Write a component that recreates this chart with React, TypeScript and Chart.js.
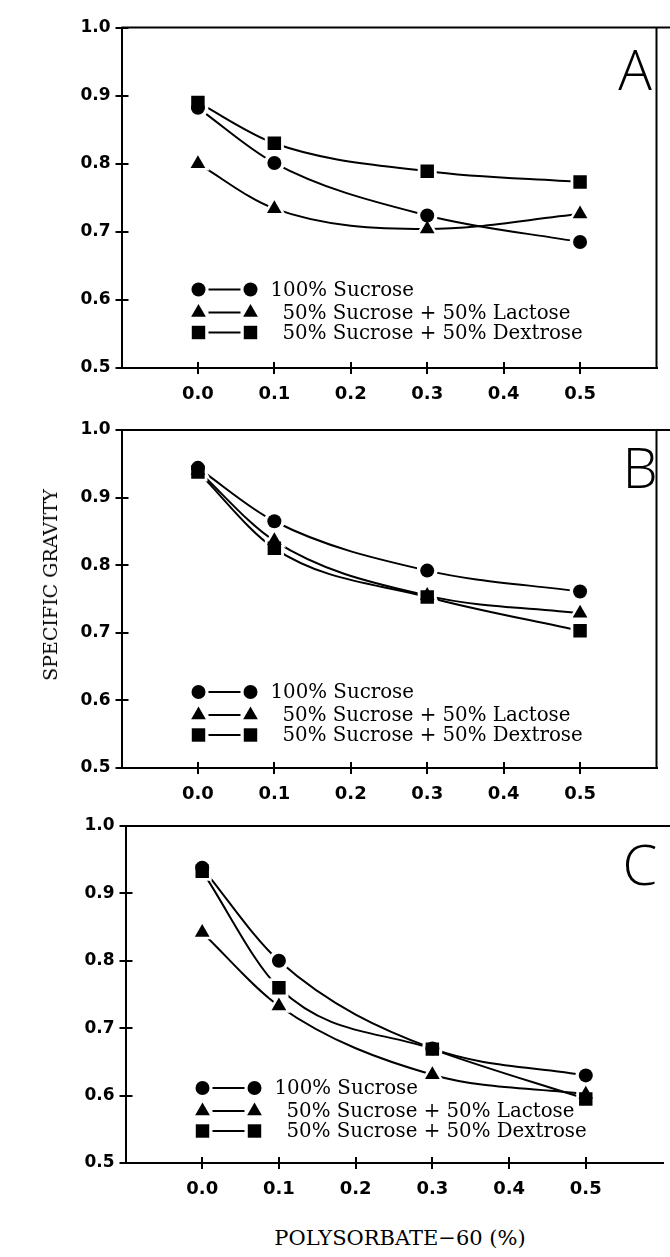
import React, { useEffect, useRef } from 'react';
import { Chart, registerables } from 'chart.js';

Chart.register(...registerables);

// ---------------- data ----------------
const polysorbate = [0, 0.1, 0.3, 0.5];
const xTickValues = [0, 0.1, 0.2, 0.3, 0.4, 0.5];
const yTickValues = [0.5, 0.6, 0.7, 0.8, 0.9, 1.0];
const seriesNames = ['100% Sucrose', '50% Sucrose + 50% Lactose', '50% Sucrose + 50% Dextrose'];
const panelLetters = ['A', 'B', 'C'];

const sucroseA = [0.882, 0.801, 0.724, 0.685];
const lactoseA = [0.800, 0.734, 0.704, 0.726];
const dextroseA = [0.890, 0.830, 0.789, 0.773];

const sucroseB = [0.944, 0.865, 0.792, 0.761];
const lactoseB = [0.940, 0.836, 0.755, 0.729];
const dextroseB = [0.938, 0.825, 0.753, 0.703];

const sucroseC = [0.938, 0.800, 0.670, 0.630];
const lactoseC = [0.842, 0.733, 0.631, 0.602];
const dextroseC = [0.933, 0.760, 0.669, 0.595];

const yTitle = 'SPECIFIC GRAVITY';
const xTitle = 'POLYSORBATE\u221260 (%)';

const panelSeries = [
  [sucroseA, lactoseA, dextroseA],
  [sucroseB, lactoseB, dextroseB],
  [sucroseC, lactoseC, dextroseC],
];

// ---------------- layout / style ----------------
const panelLayouts = [
  { top: 0, width: 670, height: 400, areaLeft: 121.5, areaTop: 27.5, areaRight: 668, areaBottom: 368, letterX: 635, letterY: 90, rightBorder: true },
  { top: 400, width: 670, height: 400, areaLeft: 121.5, areaTop: 30, areaRight: 669, areaBottom: 368, letterX: 640, letterY: 88, rightBorder: true },
  { top: 800, width: 676, height: 400, areaLeft: 125.5, areaTop: 26, areaRight: 673, areaBottom: 363, letterX: 640, letterY: 85, rightBorder: false },
];

const pointStyles = ['circle', 'triangle', 'rect'];
const markerRadius = [7, 8.5, 9.5];
const haloRadius = [10.5, 13.5, 13.5];
const legendRowOffsets = [262, 285, 305];

function drawMarker(ctx: CanvasRenderingContext2D, style: string, x: number, y: number, r: number) {
  ctx.beginPath();
  if (style === 'circle') {
    ctx.arc(x, y, r, 0, Math.PI * 2);
  } else if (style === 'triangle') {
    let a = 0;
    ctx.moveTo(x + Math.sin(a) * r, y - Math.cos(a) * r);
    a += (2 * Math.PI) / 3;
    ctx.lineTo(x + Math.sin(a) * r, y - Math.cos(a) * r);
    a += (2 * Math.PI) / 3;
    ctx.lineTo(x + Math.sin(a) * r, y - Math.cos(a) * r);
    ctx.closePath();
  } else {
    const s = r * Math.SQRT1_2;
    ctx.rect(x - s, y - s, 2 * s, 2 * s);
  }
  ctx.fill();
}

const decorPlugin = {
  id: 'panelDecor',
  afterDraw(chart: any, _args: any, opts: any) {
    const { ctx, chartArea } = chart;
    const { left, top, right, bottom } = chartArea;
    const xs = chart.scales.x;
    const ys = chart.scales.y;
    ctx.save();
    ctx.strokeStyle = '#000';
    ctx.lineWidth = 2;
    ctx.beginPath();
    ctx.moveTo(left, top);
    ctx.lineTo(chart.width, top);
    if (opts.rightBorder) {
      ctx.moveTo(right, top);
      ctx.lineTo(right, bottom);
    }
    ctx.stroke();
    // inward halves of the crossing ticks
    ctx.beginPath();
    xTickValues.forEach((v) => {
      const px = Math.round(xs.getPixelForValue(v));
      ctx.moveTo(px, bottom);
      ctx.lineTo(px, bottom - 6);
    });
    yTickValues.forEach((v) => {
      const py = Math.round(ys.getPixelForValue(v));
      ctx.moveTo(left, py);
      ctx.lineTo(left + 7, py);
    });
    ctx.stroke();

    // legend
    ctx.fillStyle = '#000';
    ctx.font = "19.8px 'DejaVu Serif'";
    ctx.textBaseline = 'middle';
    ctx.textAlign = 'left';
    seriesNames.forEach((name, i) => {
      const y = top + legendRowOffsets[i];
      const x1 = left + 77;
      const x2 = left + 129;
      ctx.beginPath();
      ctx.moveTo(x1 + 10, y);
      ctx.lineTo(x2 - 10, y);
      ctx.stroke();
      drawMarker(ctx, pointStyles[i], x1, y, markerRadius[i]);
      drawMarker(ctx, pointStyles[i], x2, y, markerRadius[i]);
      ctx.fillText(name, left + (i === 0 ? 149 : 161), y + 1);
    });

    // panel letter
    ctx.font = "300 56px 'Open Sans'";
    ctx.textAlign = 'center';
    ctx.textBaseline = 'alphabetic';
    ctx.fillText(opts.letter, opts.letterX, opts.letterY);
    ctx.restore();
  },
};

function buildDatasets(series: number[][]) {
  const ds: any[] = [];
  series.forEach((vals, i) => {
    const data = polysorbate.map((x, k) => ({ x, y: vals[k] }));
    ds.push({
      label: seriesNames[i],
      data,
      showLine: true,
      borderColor: '#000',
      borderWidth: 2,
      pointRadius: 0,
      cubicInterpolationMode: 'monotone',
      fill: false,
      order: 3,
    });
    ds.push({
      label: seriesNames[i] + ' halo',
      data,
      showLine: false,
      pointStyle: pointStyles[i],
      pointRadius: haloRadius[i],
      pointBackgroundColor: '#fff',
      pointBorderWidth: 0,
      order: 2,
    });
    ds.push({
      label: seriesNames[i] + ' marker',
      data,
      showLine: false,
      pointStyle: pointStyles[i],
      pointRadius: markerRadius[i],
      pointBackgroundColor: '#000',
      pointBorderWidth: 0,
      order: 1,
    });
  });
  return ds;
}

function Panel({ index }: { index: number }) {
  const ref = useRef<HTMLCanvasElement>(null);
  const L = panelLayouts[index];
  useEffect(() => {
    if (!ref.current) return;
    const tickFont = { family: "'DejaVu Sans'", size: 17, weight: 'bold' as const };
    const chart = new Chart(ref.current, {
      type: 'scatter',
      data: { datasets: buildDatasets(panelSeries[index]) },
      options: {
        animation: false,
        responsive: false,
        maintainAspectRatio: false,
        layout: { padding: { top: L.areaTop, right: L.width - L.areaRight, left: 0, bottom: 0 } },
        plugins: {
          legend: { display: false },
          tooltip: { enabled: false },
          panelDecor: { letter: panelLetters[index], letterX: L.letterX, letterY: L.letterY, rightBorder: L.rightBorder },
        } as any,
        scales: {
          x: {
            type: 'linear',
            min: -0.1,
            max: 0.6,
            afterBuildTicks: (s: any) => {
              s.ticks = xTickValues.map((v) => ({ value: v }));
            },
            afterFit: (s: any) => {
              s.height = L.height - L.areaBottom;
            },
            ticks: {
              color: '#000',
              font: { family: "'DejaVu Sans'", size: 18, weight: 'bold' as const },
              padding: 10,
              autoSkip: false,
              maxRotation: 0,
              callback: (v: any) => Number(v).toFixed(1),
            },
            grid: { display: true, drawOnChartArea: false, drawTicks: true, tickLength: 6, color: '#000', lineWidth: 2 },
            border: { display: true, color: '#000', width: 2 },
          },
          y: {
            type: 'linear',
            min: 0.5,
            max: 1.0,
            afterBuildTicks: (s: any) => {
              s.ticks = yTickValues.map((v) => ({ value: v }));
            },
            afterFit: (s: any) => {
              s.width = L.areaLeft;
            },
            ticks: {
              color: '#000',
              font: tickFont,
              padding: 5,
              autoSkip: false,
              callback: (v: any) => Number(v).toFixed(1),
            },
            grid: { display: true, drawOnChartArea: false, drawTicks: true, tickLength: 6, color: '#000', lineWidth: 2 },
            border: { display: true, color: '#000', width: 2 },
          },
        },
      },
      plugins: [decorPlugin],
    });
    return () => chart.destroy();
  }, [index]);
  return (
    <canvas
      ref={ref}
      width={L.width}
      height={L.height}
      style={{ position: 'absolute', left: 0, top: L.top, width: L.width, height: L.height }}
    />
  );
}

export default function App() {
  useEffect(() => {
    document.body.style.margin = '0';
    document.body.style.background = '#fff';
  }, []);
  return (
    <div style={{ position: 'relative', width: 670, height: 1257, overflow: 'hidden', background: '#fff' }}>
      <Panel index={0} />
      <Panel index={1} />
      <Panel index={2} />
      <div
        style={{
          position: 'absolute',
          left: 50,
          top: 585,
          transform: 'translate(-50%, -50%) rotate(-90deg)',
          whiteSpace: 'nowrap',
          fontFamily: "'DejaVu Serif'",
          fontSize: 19,
          color: '#000',
        }}
      >
        {yTitle}
      </div>
      <div
        style={{
          position: 'absolute',
          left: 400,
          top: 1238,
          transform: 'translate(-50%, -50%)',
          whiteSpace: 'nowrap',
          fontFamily: "'DejaVu Serif'",
          fontSize: 21,
          color: '#000',
        }}
      >
        {xTitle}
      </div>
    </div>
  );
}
